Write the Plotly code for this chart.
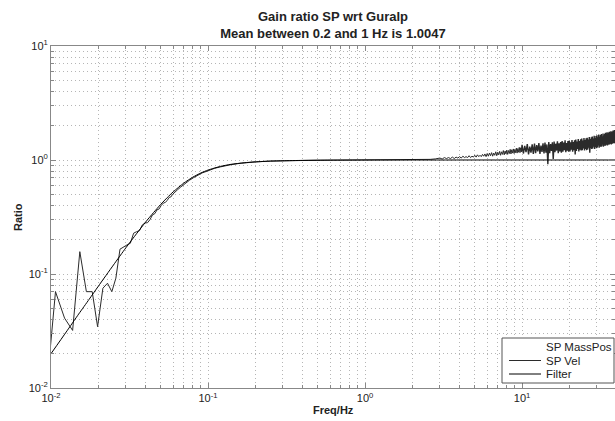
import plotly.graph_objects as go

# ---- data ----
filter_freq = [0.01, 0.0125, 0.015, 0.0175, 0.02, 0.025, 0.03, 0.035, 0.04, 0.045,
               0.05, 0.055, 0.06, 0.07, 0.08, 0.09, 0.1, 0.12, 0.14, 0.17, 0.2,
               0.25, 0.3, 0.4, 0.6, 1.0, 2.0, 50.0]
filter_ratio = [0.020, 0.031, 0.0445, 0.060, 0.078, 0.120, 0.170, 0.225, 0.285, 0.346,
                0.408, 0.468, 0.525, 0.626, 0.707, 0.769, 0.816, 0.879, 0.916, 0.946, 0.963,
                0.978, 0.985, 0.992, 0.9965, 0.9988, 0.9997, 1.0]

vel_low_freq = [0.00916, 0.01068, 0.0122, 0.01373, 0.01526, 0.0168, 0.0183, 0.0198,
                0.0214, 0.0229, 0.0244, 0.0259, 0.0275, 0.029, 0.0305, 0.032, 0.0336,
                0.0351, 0.0366, 0.0382, 0.0397, 0.0412, 0.0427, 0.0443, 0.0458, 0.0473,
                0.0488, 0.0504, 0.0519, 0.0534, 0.0549, 0.0565, 0.058, 0.0595, 0.061,
                0.0641, 0.0671, 0.0702, 0.0732, 0.0763, 0.0809, 0.0855, 0.0916, 0.0992,
                0.11, 0.12, 0.13, 0.14, 0.16, 0.18, 0.2, 0.25, 0.3, 0.4, 0.5, 0.7, 1.0]
vel_low_ratio = [0.007, 0.070, 0.041, 0.032, 0.157, 0.070, 0.070, 0.0345,
                 0.075, 0.083, 0.070, 0.092, 0.165, 0.174, 0.180, 0.186, 0.228,
                 0.235, 0.240, 0.270, 0.280, 0.282, 0.300, 0.330, 0.338, 0.365,
                 0.372, 0.400, 0.418, 0.425, 0.440, 0.470, 0.474, 0.500, 0.520,
                 0.550, 0.580, 0.610, 0.630, 0.665, 0.700, 0.735, 0.770, 0.800,
                 0.845, 0.870, 0.895, 0.910, 0.935, 0.952, 0.962, 0.978, 0.986, 0.993, 0.996, 0.999, 1.000]

vel_mid_freq = [1.0, 1.2, 1.4, 1.6, 1.8, 2.0, 2.2, 2.4, 2.6, 2.8,
                3.0, 3.1, 3.2, 3.3, 3.4, 3.5, 3.6, 3.7, 3.8, 3.9,
                4.0, 4.1, 4.2, 4.3, 4.4, 4.5, 4.6, 4.7, 4.8, 4.9,
                5.0, 5.1, 5.2, 5.3, 5.4, 5.5, 5.6, 5.7, 5.8, 5.9,
                6.0, 6.1, 6.2, 6.3, 6.4, 6.5, 6.6, 6.7, 6.8, 6.9,
                7.0, 7.1, 7.2, 7.3, 7.4, 7.5, 7.6, 7.7, 7.8, 7.9,
                8.0, 8.1, 8.2, 8.3, 8.4, 8.5, 8.6, 8.7, 8.8, 8.9,
                9.0, 9.1, 9.2, 9.3, 9.4, 9.5, 9.6, 9.7, 9.8, 9.9]
vel_mid_ratio = [1.000, 1.004, 1.002, 1.008, 1.005, 1.012, 1.008, 1.017, 1.013, 1.022,
                 1.04, 1.02, 1.05, 1.03, 1.05, 1.03, 1.06, 1.03, 1.06, 1.04,
                 1.07, 1.04, 1.08, 1.05, 1.07, 1.05, 1.09, 1.05, 1.08, 1.06,
                 1.10, 1.06, 1.11, 1.07, 1.10, 1.07, 1.12, 1.08, 1.13, 1.07,
                 1.14, 1.08, 1.15, 1.09, 1.16, 1.08, 1.15, 1.10, 1.18, 1.09,
                 1.17, 1.11, 1.19, 1.10, 1.18, 1.12, 1.21, 1.11, 1.20, 1.13,
                 1.22, 1.12, 1.21, 1.14, 1.24, 1.13, 1.23, 1.15, 1.25, 1.14,
                 1.24, 1.16, 1.27, 1.15, 1.26, 1.17, 1.29, 1.16, 1.28, 1.18]

vel_high_freq = [9.9, 10.0, 10.2, 10.4, 10.6, 10.8, 11.0, 11.2, 11.4, 11.6, 11.8,
                 12.0, 12.2, 12.4, 12.6, 12.8, 13.0, 13.2, 13.4, 13.6, 13.8,
                 14.0, 14.2, 14.4, 14.6, 14.8, 15.0, 15.2, 15.4, 15.6, 15.8,
                 16.0, 16.2, 16.4, 16.6, 16.8, 17.0, 17.2, 17.4, 17.6, 17.8,
                 18.0, 18.2, 18.4, 18.6, 18.8, 19.0, 19.2, 19.4, 19.6, 19.8,
                 20.0, 20.2, 20.4, 20.6, 20.8, 21.0, 21.2, 21.4, 21.6, 21.8,
                 22.0, 22.2, 22.4, 22.6, 22.8, 23.0, 23.2, 23.4, 23.6, 23.8,
                 24.0, 24.2, 24.4, 24.6, 24.8, 25.0, 25.2, 25.4, 25.6, 25.8,
                 26.0, 26.2, 26.4, 26.6, 26.8, 27.0, 27.2, 27.4, 27.6, 27.8,
                 28.0, 28.2, 28.4, 28.6, 28.8, 29.0, 29.2, 29.4, 29.6, 29.8,
                 30.0, 30.2, 30.4, 30.6, 30.8, 31.0, 31.2, 31.4, 31.6, 31.8,
                 32.0, 32.2, 32.4, 32.6, 32.8, 33.0, 33.2, 33.4, 33.6, 33.8,
                 34.0, 34.2, 34.4, 34.6, 34.8, 35.0, 35.2, 35.4, 35.6, 35.8,
                 36.0, 36.2, 36.4, 36.6, 36.8, 37.0, 37.2, 37.4, 37.6, 37.8,
                 38.0, 38.2, 38.4, 38.6, 38.8, 39.0, 39.2, 39.4, 39.6, 39.8, 40.0]
vel_high_ratio = [1.18, 1.36, 1.14, 1.33, 1.17, 1.38, 1.12, 1.31, 1.16, 1.37, 1.13,
                  1.39, 1.15, 1.35, 1.19, 1.41, 1.13, 1.34, 1.18, 1.40, 1.14,
                  1.42, 1.16, 1.37, 0.92, 1.44, 1.15, 1.38, 1.20, 1.43, 1.02,
                  1.45, 1.17, 1.39, 1.21, 1.46, 1.15, 1.40, 1.19, 1.44, 1.16,
                  1.47, 1.18, 1.42, 1.22, 1.49, 1.17, 1.41, 1.21, 1.47, 1.18,
                  1.48, 1.19, 1.43, 1.23, 1.50, 1.18, 1.44, 1.22, 1.49, 1.12,
                  1.51, 1.20, 1.45, 1.25, 1.53, 1.19, 1.47, 1.23, 1.52, 1.21,
                  1.54, 1.22, 1.48, 1.26, 1.56, 1.21, 1.50, 1.25, 1.55, 1.22,
                  1.57, 1.24, 1.51, 1.28, 1.59, 1.16, 1.53, 1.27, 1.58, 1.25,
                  1.61, 1.26, 1.54, 1.31, 1.63, 1.25, 1.56, 1.30, 1.62, 1.27,
                  1.65, 1.29, 1.58, 1.34, 1.67, 1.28, 1.60, 1.33, 1.66, 1.30,
                  1.69, 1.32, 1.61, 1.37, 1.71, 1.31, 1.64, 1.36, 1.70, 1.33,
                  1.73, 1.35, 1.65, 1.40, 1.75, 1.34, 1.68, 1.39, 1.74, 1.36,
                  1.77, 1.38, 1.68, 1.43, 1.79, 1.37, 1.71, 1.42, 1.78, 1.39,
                  1.81, 1.41, 1.72, 1.46, 1.83, 1.40, 1.75, 1.45, 1.82, 1.42, 1.76]

tick_vals = [0.01, 0.1, 1, 10]
tick_text = ["10<sup>-2</sup>", "10<sup>-1</sup>", "10<sup>0</sup>", "10<sup>1</sup>"]

title_lines = ["Gain ratio SP wrt Guralp", "Mean between 0.2 and 1 Hz is 1.0047"]
series_names = ["SP MassPos", "SP Vel", "Filter"]
series_colors = ["rgba(0,0,0,0)", "#2b2b2b", "#000000"]

FONT = "Liberation Sans, Arial, sans-serif"

FIG_W, FIG_H = 615, 421
PLOT_L, PLOT_R, PLOT_T, PLOT_B = 51, 615, 46, 388   # plot area in pixels

fig = go.Figure()
fig.add_trace(go.Scatter(x=vel_low_freq + vel_mid_freq, y=vel_low_ratio + vel_mid_ratio,
                         mode="lines", name=series_names[1],
                         line=dict(color=series_colors[1], width=1), showlegend=False))
fig.add_trace(go.Scatter(x=vel_high_freq, y=vel_high_ratio,
                         mode="lines", name=series_names[1],
                         line=dict(color=series_colors[1], width=1.4), showlegend=False))
fig.add_trace(go.Scatter(x=filter_freq, y=filter_ratio, mode="lines", name=series_names[2],
                         line=dict(color=series_colors[2], width=1, shape="spline", smoothing=0.6),
                         showlegend=False))

GRID = "#b5b5b5"
grid_common = dict(showgrid=True, gridcolor=GRID, griddash="1px,3px", gridwidth=1)
minor_common = dict(ticks="inside", ticklen=3, tickcolor="#888", showgrid=True,
                    gridcolor=GRID, griddash="1px,3px", gridwidth=1, dtick="D1")
axis_common = dict(type="log", tickvals=tick_vals, ticktext=tick_text,
                   ticks="inside", ticklen=5, tickcolor="#888",
                   showline=True, linecolor="#888", linewidth=1, mirror="ticks",
                   zeroline=False, minor=minor_common, automargin=False,
                   tickfont=dict(family=FONT, size=11, color="#222"), **grid_common)

fig.update_xaxes(range=[-2, 1.592], **axis_common)
fig.update_yaxes(range=[-2, 1], **axis_common)


def px_x(px):
    return (px - PLOT_L) / (PLOT_R - PLOT_L)


def px_y(py):
    return (PLOT_B - py) / (PLOT_B - PLOT_T)


# manual legend, drawn in paper coordinates of the plot area
shapes = [dict(type="rect", xref="paper", yref="paper",
               x0=px_x(502), x1=px_x(614), y0=px_y(383), y1=px_y(338),
               fillcolor="white", line=dict(color="#555", width=1), layer="above")]
annotations = []
legend_rows = [347, 360.5, 374]
for name, color, row in zip(series_names, series_colors, legend_rows):
    shapes.append(dict(type="line", xref="paper", yref="paper",
                       x0=px_x(509), x1=px_x(541), y0=px_y(row), y1=px_y(row),
                       line=dict(color=color, width=1), layer="above"))
    annotations.append(dict(text=name, xref="paper", yref="paper", x=px_x(544), y=px_y(row),
                            xanchor="left", yanchor="middle", showarrow=False,
                            font=dict(family=FONT, size=11.5, color="#222")))

annotations += [
    dict(text="<b>Freq/Hz</b>", xref="paper", yref="paper", x=px_x(333), y=px_y(410),
         xanchor="center", yanchor="middle", showarrow=False,
         font=dict(family=FONT, size=11, color="#222")),
    dict(text="<b>Ratio</b>", xref="paper", yref="paper", x=px_x(18), y=0.5,
         xanchor="center", yanchor="middle", textangle=-90, showarrow=False,
         font=dict(family=FONT, size=11, color="#222")),
]

fig.update_layout(
    width=FIG_W, height=FIG_H,
    margin=dict(l=PLOT_L, r=FIG_W - PLOT_R, t=PLOT_T, b=FIG_H - PLOT_B, autoexpand=False),
    paper_bgcolor="white", plot_bgcolor="white",
    font=dict(family=FONT, size=11, color="#222"),
    title=dict(text="<b>" + title_lines[0] + "</b><br><b>" + title_lines[1] + "</b>",
               x=px_x(333), xref="paper", xanchor="center",
               y=1 - 21 / FIG_H, yref="container", yanchor="top",
               font=dict(family=FONT, size=13, color="#222")),
    showlegend=False,
    shapes=shapes,
    annotations=annotations,
)

# remove the default 8px page margin so the 615x421 figure fills the window exactly
fig.write_html("out.html", config={"displayModeBar": False},
               post_script="document.body.style.margin='0px';document.body.style.overflow='hidden';")
